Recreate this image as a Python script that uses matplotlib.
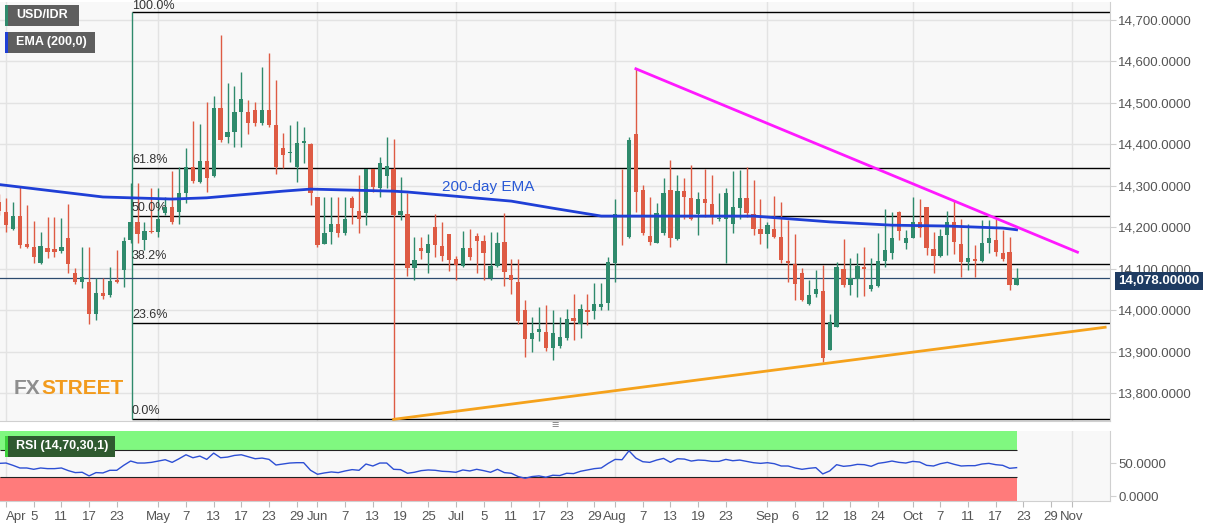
import matplotlib
matplotlib.use("Agg")
import matplotlib.pyplot as plt
from matplotlib.patches import Rectangle
import numpy as np
import pandas as pd

plt.rcParams['font.family'] = ['Liberation Sans', 'DejaVu Sans']

# daily candles, USD/IDR, 2019-03-29 .. 2019-10-22 (weekdays)
opens = [14260, 14238, 14197, 14228, 14159, 14153, 14113, 14149, 14148, 14143,
         14173, 14089, 14069, 14069, 13992, 14041, 14037, 14073, 14097, 14169,
         14213, 14169, 14191, 14188, 14235, 14248, 14236, 14282, 14346, 14310,
         14360, 14324, 14488, 14418, 14430, 14479, 14477, 14483, 14451, 14483,
         14447, 14390, 14378, 14346, 14404, 14400, 14272, 14160, 14188, 14209,
         14185, 14271, 14239, 14235, 14340, 14295, 14323, 14340, 14229, 14231,
         14101, 14151, 14137, 14200, 14155, 14183, 14123, 14106, 14149, 14179,
         14167, 14078, 14107, 14165, 14085, 14069, 14000, 13930, 13948, 13948,
         13910, 13913, 13934, 13982, 13968, 14000, 13999, 14008, 14018, 14115,
         14230, 14177, 14425, 14290, 14179, 14163, 14187, 14290, 14171, 14287,
         14270, 14232, 14267, 14255, 14219, 14219, 14209, 14247, 14271, 14232,
         14197, 14184, 14197, 14177, 14117, 14111, 14090, 14016, 14038, 14047,
         13905, 13960, 14099, 14061, 14075, 14105, 14050, 14058, 14119, 14139,
         14236, 14161, 14175, 14213, 14250, 14147, 14131, 14181, 14213, 14160,
         14116, 14123, 14119, 14163, 14169, 14137, 14141, 14061]
highs = [14280, 14270, 14262, 14298, 14254, 14216, 14188, 14224, 14224, 14222,
         14255, 14103, 14153, 14153, 14077, 14077, 14105, 14145, 14177, 14306,
         14306, 14213, 14295, 14294, 14274, 14336, 14346, 14390, 14455, 14448,
         14503, 14517, 14664, 14547, 14541, 14574, 14507, 14503, 14586, 14620,
         14555, 14427, 14447, 14455, 14441, 14402, 14272, 14272, 14272, 14272,
         14272, 14276, 14326, 14340, 14340, 14369, 14417, 14413, 14322, 14283,
         14177, 14177, 14184, 14232, 14213, 14183, 14130, 14191, 14195, 14185,
         14181, 14189, 14189, 14235, 14123, 14123, 14024, 13983, 14007, 14012,
         14000, 13984, 14004, 14040, 14016, 14040, 14065, 14066, 14129, 14267,
         14340, 14417, 14583, 14302, 14274, 14259, 14318, 14362, 14326, 14318,
         14350, 14286, 14340, 14326, 14283, 14294, 14336, 14338, 14345, 14314,
         14267, 14213, 14275, 14262, 14217, 14184, 14101, 14073, 14097, 14109,
         13992, 14117, 14172, 14127, 14137, 14152, 14127, 14185, 14244, 14238,
         14240, 14193, 14272, 14267, 14250, 14189, 14197, 14240, 14263, 14219,
         14209, 14157, 14217, 14217, 14221, 14193, 14177, 14101]
lows = [14230, 14189, 14193, 14151, 14149, 14113, 14111, 14127, 14129, 14139,
        14089, 14063, 14053, 13968, 13976, 14028, 14032, 14065, 14057, 14161,
        14161, 14145, 14187, 14177, 14230, 14209, 14209, 14259, 14306, 14306,
        14286, 14322, 14406, 14402, 14394, 14394, 14425, 14443, 14447, 14441,
        14328, 14342, 14358, 14310, 14356, 14254, 14153, 14160, 14160, 14177,
        14181, 14209, 14185, 14205, 14286, 14272, 14294, 13737, 14217, 14082,
        14074, 14123, 14090, 14129, 14119, 14095, 14074, 14105, 14121, 14090,
        14074, 14074, 14105, 14058, 14039, 13968, 13888, 13900, 13926, 13902,
        13880, 13908, 13928, 13928, 13932, 13964, 13980, 14000, 14000, 14069,
        14157, 14175, 14238, 14181, 14157, 14161, 14181, 14152, 14169, 14221,
        14217, 14181, 14225, 14209, 14215, 14113, 14185, 14221, 14225, 14181,
        14159, 14149, 14173, 14113, 14069, 14024, 14023, 14012, 14032, 13876,
        13904, 13960, 14055, 14037, 14033, 14034, 14047, 14057, 14105, 14123,
        14169, 14147, 14173, 14177, 14133, 14089, 14129, 14133, 14135, 14081,
        14097, 14079, 14117, 14139, 14131, 14119, 14049, 14061]
closes = [14240, 14205, 14227, 14157, 14153, 14129, 14155, 14141, 14141, 14152,
          14111, 14069, 14081, 13992, 14041, 14034, 14071, 14069, 14167, 14213,
          14184, 14191, 14188, 14221, 14248, 14212, 14282, 14346, 14312, 14360,
          14318, 14488, 14410, 14430, 14477, 14509, 14451, 14452, 14483, 14447,
          14346, 14374, 14380, 14402, 14408, 14283, 14157, 14187, 14209, 14185,
          14219, 14247, 14221, 14340, 14298, 14354, 14348, 14229, 14239, 14102,
          14121, 14143, 14160, 14157, 14131, 14121, 14108, 14149, 14129, 14168,
          14139, 14107, 14161, 14091, 14073, 13974, 13930, 13946, 13954, 13908,
          13944, 13936, 13980, 13974, 14002, 13995, 14016, 14016, 14117, 14232,
          14225, 14410, 14286, 14187, 14165, 14234, 14283, 14173, 14287, 14274,
          14221, 14267, 14258, 14230, 14222, 14282, 14248, 14270, 14235, 14197,
          14184, 14205, 14177, 14121, 14115, 14063, 14024, 14036, 14050, 13885,
          13972, 14105, 14061, 14077, 14106, 14100, 14062, 14119, 14145, 14173,
          14192, 14175, 14213, 14199, 14149, 14131, 14179, 14212, 14165, 14116,
          14127, 14119, 14161, 14175, 14141, 14124, 14061, 14078]

rsi = [50, 50.5, 47, 43, 43, 41, 43, 42, 42, 43,
       39, 36, 36.5, 31, 36, 35.5, 39.5, 39.5, 47, 53.5,
       50.5, 50.5, 51.5, 53.5, 55.5, 51.5, 57, 63, 58.5, 61,
       56, 65.5, 58.5, 59.5, 62, 63, 60, 57, 58, 56,
       47.5, 49, 50.5, 51, 51, 39.5, 33.5, 35.5, 37, 36,
       38.5, 40.5, 39.5, 49, 46, 50.5, 50.5, 41, 40.5, 35,
       36.5, 39, 40, 39.5, 38, 37.5, 36.5, 40, 38.5, 41,
       39, 36.5, 41, 36, 35, 30, 27.5, 30, 31, 29,
       32, 31.5, 35, 34.5, 38, 40, 42, 43, 50, 56,
       55.5, 69, 58, 52.5, 51.5, 55, 57.5, 51.5, 57, 56.5,
       53.5, 55, 54.5, 53, 53, 56, 54, 55, 53, 51,
       50, 51, 49.5, 46, 46, 43, 41, 42.5, 43.5, 34,
       38.5, 48, 45.5, 46.5, 48.5, 48, 45.5, 50, 51.5, 53.5,
       51.5, 50.5, 53, 52, 47, 46, 49.5, 51.5, 48.5, 46,
       46.5, 46.5, 49, 50, 48, 47, 42.5, 43.5]

# 200-day EMA (bar position, value)
ema_pos = [0, 15, 19, 25, 30, 41, 45, 57, 59, 74, 80, 87, 94, 109, 120, 129, 137, 145, 147]
ema_val = [14303, 14273, 14271, 14268, 14271, 14287, 14292, 14287, 14285, 14263,
           14246, 14227, 14227, 14227, 14213, 14205, 14203, 14198, 14194]

fib_high, fib_low = 14719, 13737
fib_levels = [1.0, 0.618, 0.5, 0.382, 0.236, 0.0]
fib_labels = ["100.0%", "61.8%", "50.0%", "38.2%", "23.6%", "0.0%"]
fib_start = 19.2

down_line = [(92, 14582), (155.8, 14140)]
up_line = [(57, 13737), (159.8, 13959)]
last_price = 14078

dates = pd.bdate_range("2019-03-29", "2019-11-08")
tick_days = ["2019-04-01", "2019-04-05", "2019-04-11", "2019-04-17", "2019-04-23",
             "2019-05-01", "2019-05-07", "2019-05-13", "2019-05-17", "2019-05-23", "2019-05-29",
             "2019-06-03", "2019-06-07", "2019-06-13", "2019-06-19", "2019-06-25",
             "2019-07-01", "2019-07-05", "2019-07-11", "2019-07-17", "2019-07-23", "2019-07-29",
             "2019-08-01", "2019-08-07", "2019-08-13", "2019-08-19", "2019-08-23",
             "2019-09-02", "2019-09-06", "2019-09-12", "2019-09-18", "2019-09-24",
             "2019-10-01", "2019-10-07", "2019-10-11", "2019-10-17", "2019-10-23", "2019-10-29",
             "2019-11-01"]

xs = np.arange(len(opens))
up = np.array(closes) >= np.array(opens)
green, red = '#2f8a6c', '#de5b44'
cols = [green if u else red for u in up]

# tick positions; the first tick of each month gets the month name
tick_ts = [pd.Timestamp(d) for d in tick_days]
tick_pos = [dates.get_loc(t) for t in tick_ts]
tick_lab, month_pos = [], []
prev = None
for t, p in zip(tick_ts, tick_pos):
    if t.month != prev:
        tick_lab.append(t.strftime('%b'))
        month_pos.append(p)
    else:
        tick_lab.append(str(t.day))
    prev = t.month

W, H = 1207, 526
fig = plt.figure(figsize=(W / 100, H / 100), dpi=100)
fig.patch.set_facecolor('white')
ax = fig.add_axes([0, 1 - 421 / H, 1110 / W, 419 / H])
ax2 = fig.add_axes([0, 1 - 501 / H, 1110 / W, 70 / H], sharex=ax)
bg = '#f8f8f8'
for a in (ax, ax2):
    a.set_facecolor(bg)
    for s in ('top', 'left'):
        a.spines[s].set_visible(False)
    for s in ('right', 'bottom'):
        a.spines[s].set_color('#d0d0d0')
    a.yaxis.tick_right()
    a.tick_params(axis='y', colors='#d0d0d0', labelcolor='#555555', labelsize=9.5, length=4, pad=2)

xmin, xmax = 0.13, 160.5
ax.set_xlim(xmin, xmax)
ax.set_ylim(13733, 14743)

for a in (ax, ax2):
    for p in month_pos:
        a.axvline(p, color='#e3e3e3', lw=1, zorder=0)
for v in range(13800, 14800, 100):
    ax.axhline(v, color='#e3e3e3', lw=1, zorder=0)

ax.set_yticks(range(13800, 14800, 100))
ax.set_yticklabels([f"{v:,.4f}" for v in range(13800, 14800, 100)])
ax.tick_params(axis='x', bottom=False, labelbottom=False)

# candles
ax.vlines(xs, lows, highs, colors=cols, lw=1, zorder=3)
body = np.maximum(np.abs(np.array(closes) - np.array(opens)), 3)
ax.bar(xs, body, bottom=np.minimum(opens, closes), width=0.62, color=cols, zorder=4)

# fibonacci retracement
for lvl, lab in zip(fib_levels, fib_labels):
    y = fib_low + lvl * (fib_high - fib_low)
    ax.hlines(y, fib_start, xmax, color='black', lw=1, zorder=2)
    off = 1 if lvl == 1.0 else 5
    ax.text(fib_start, y + off, lab, fontsize=9, color='#333333', va='bottom', ha='left', clip_on=False)
ax.vlines(fib_start, fib_low, fib_high, color='#2f8a6c', lw=1, zorder=2)

ax.axhline(last_price, color='#2c4a6e', lw=0.9, zorder=2)

ax.plot(ema_pos, ema_val, color='#1f3fd6', lw=2, zorder=5)
ax.text(64, 14297, "200-day EMA", color='#2a5ad6', fontsize=11, va='center', ha='left')

ax.plot([p[0] for p in down_line], [p[1] for p in down_line], color='#ff19ff', lw=2, zorder=6)
ax.plot([p[0] for p in up_line], [p[1] for p in up_line], color='#f5a21c', lw=2, zorder=6)

# RSI panel
last = xs[-1]
ax2.set_ylim(-7, 99)
ax2.fill_between([xmin, last], 70, 100, color='#80f880', lw=0, zorder=1)
ax2.fill_between([xmin, last], -10, 30, color='#ff7b7b', lw=0, zorder=1)
ax2.hlines([70, 30], xmin, last, color='#222222', lw=0.8, zorder=2)
ax2.plot(xs, rsi, color='#2d4fd4', lw=1, zorder=4)
ax2.set_yticks([0, 50])
ax2.set_yticklabels(["0.0000", "50.0000"])
ax2.set_xticks(tick_pos)
ax2.set_xticklabels(tick_lab)
ax2.tick_params(axis='x', colors='#bbbbbb', labelcolor='#555555', labelsize=9.5, length=4, pad=3)
ax2.get_xticklabels()[0].set_horizontalalignment('left')
ax2.get_xticklabels()[0].set_x(xmin)


def px(x, y):
    return x / W, 1 - y / H


def tag(x0, y0, w, h, bar, fill, text, tx):
    fig.patches.append(Rectangle(px(x0, y0 + h), w / W, h / H, transform=fig.transFigure,
                                 facecolor=fill, edgecolor='none', zorder=10))
    fig.patches.append(Rectangle(px(x0, y0 + h), 2.5 / W, h / H, transform=fig.transFigure,
                                 facecolor=bar, edgecolor='none', zorder=11))
    fig.text(*px(tx, y0 + h / 2), text, color='white', fontsize=9, fontweight='bold',
             va='center', ha='left', zorder=12)


tag(5, 5, 74, 21, '#2f8a6c', '#5e5e5e', "USD/IDR", 16)
tag(5, 32, 90, 21, '#1f3fd6', '#5e5e5e', "EMA (200,0)", 16)
tag(5, 436, 110, 21, '#3cd23c', '#2f5a30', "RSI (14,70,30,1)", 16)

fig.text(*px(1118, 281), f"{last_price:,.5f}", color='white', fontsize=9.5, fontweight='bold',
         va='center', ha='left',
         bbox=dict(boxstyle='square,pad=0.25', fc='#1e3b62', ec='none'))

fig.text(*px(14, 389), "FX", color='#8e8e8e', fontsize=15, fontweight='bold', va='center', ha='left')
fig.text(*px(41, 389), "STREET", color='#f29b1d', fontsize=15, fontweight='bold', va='center', ha='left')
fig.text(*px(555, 426), "≡", color='#888888', fontsize=9, va='center', ha='center')

fig.savefig("out.png", dpi=100, facecolor='white')
